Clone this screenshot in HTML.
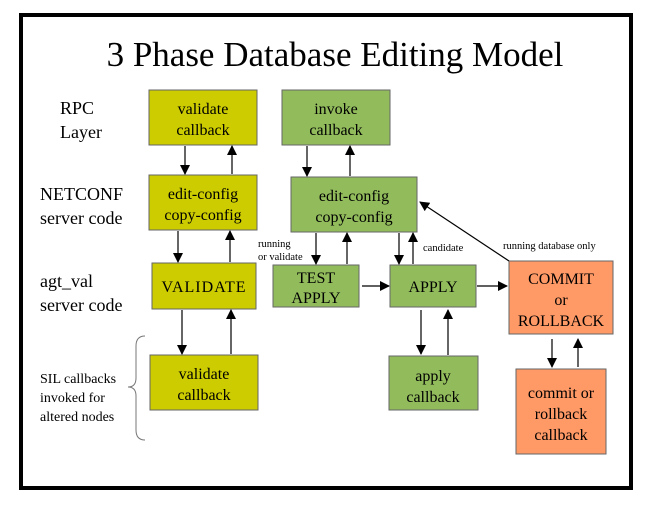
<!DOCTYPE html>
<html><head><style>
body{margin:0;background:#fff;width:648px;height:504px;overflow:hidden}
svg text{font-family:"Liberation Serif",serif;fill:#000}
</style></head><body>
<svg width="648" height="504" viewBox="0 0 648 504" xmlns="http://www.w3.org/2000/svg">
<defs><marker id="a" markerWidth="10" markerHeight="10" refX="9" refY="5" orient="auto" markerUnits="userSpaceOnUse"><path d="M0,0 L10,5 L0,10 z" fill="#000"/></marker></defs>
<rect x="21" y="15" width="610" height="473" fill="none" stroke="#000" stroke-width="4"/>
<text x="335" y="66" font-size="35" text-anchor="middle">3 Phase Database Editing Model</text>
<g font-size="18">
<text x="60" y="114">RPC</text><text x="60" y="138">Layer</text>
<text x="40" y="200">NETCONF</text><text x="40" y="224">server code</text>
<text x="40" y="287">agt_val</text><text x="40" y="311">server code</text>
</g>
<g font-size="14"><text x="40" y="383">SIL callbacks</text><text x="40" y="402">invoked for</text><text x="40" y="421">altered nodes</text></g>
<path d="M145,336 Q136,336 136,346 L136,378 Q136,387 128,387 Q136,387 136,396 L136,430 Q136,440 145,440" fill="none" stroke="#777" stroke-width="1"/>
<g stroke="#666" stroke-width="1">
<rect x="149" y="90" width="108" height="55" fill="#cccc00"/>
<rect x="149" y="175" width="108" height="55" fill="#cccc00"/>
<rect x="152" y="263" width="104" height="46" fill="#cccc00"/>
<rect x="150" y="355" width="108" height="55" fill="#cccc00"/>
<rect x="282" y="90" width="108" height="55" fill="#92bc5c"/>
<rect x="291" y="177" width="126" height="55" fill="#92bc5c"/>
<rect x="273" y="265" width="86" height="42" fill="#92bc5c"/>
<rect x="390" y="265" width="86" height="42" fill="#92bc5c"/>
<rect x="389" y="356" width="89" height="54" fill="#92bc5c"/>
<rect x="509" y="261" width="104" height="73" fill="#ff9966"/>
<rect x="516" y="369" width="90" height="85" fill="#ff9966"/>
</g>
<g font-size="16" text-anchor="middle">
<text x="203" y="114">validate</text><text x="203" y="135">callback</text>
<text x="203" y="199">edit-config</text><text x="203" y="220">copy-config</text>
<text x="204" y="292" letter-spacing="1">VALIDATE</text>
<text x="204" y="379">validate</text><text x="204" y="400">callback</text>
<text x="336" y="114">invoke</text><text x="336" y="135">callback</text>
<text x="354" y="201">edit-config</text><text x="354" y="222">copy-config</text>
<text x="316" y="283">TEST</text><text x="316" y="303">APPLY</text>
<text x="433" y="292">APPLY</text>
<text x="433" y="381">apply</text><text x="433" y="402">callback</text>
<text x="561" y="284">COMMIT</text><text x="561" y="305">or</text><text x="561" y="326">ROLLBACK</text>
<text x="561" y="398">commit or</text><text x="561" y="419">rollback</text><text x="561" y="440">callback</text>
</g>
<g font-size="10.5"><text x="258" y="247">running</text><text x="258" y="260">or validate</text>
<text x="423" y="251">candidate</text><text x="503" y="249">running database only</text></g>
<g stroke="#000" stroke-width="1.2" marker-end="url(#a)">
<line x1="185" y1="146" x2="185" y2="174"/><line x1="232" y1="174" x2="232" y2="146"/>
<line x1="178" y1="231" x2="178" y2="262"/><line x1="230" y1="262" x2="230" y2="231"/>
<line x1="182" y1="310" x2="182" y2="354"/><line x1="231" y1="354" x2="231" y2="310"/>
<line x1="307" y1="146" x2="307" y2="176"/><line x1="350" y1="176" x2="350" y2="146"/>
<line x1="316" y1="233" x2="316" y2="264"/><line x1="347" y1="264" x2="347" y2="233"/>
<line x1="399" y1="233" x2="399" y2="264"/><line x1="413" y1="264" x2="413" y2="233"/>
<line x1="362" y1="286" x2="389" y2="286"/><line x1="477" y1="286" x2="507" y2="286"/>
<line x1="421" y1="310" x2="421" y2="354"/><line x1="448" y1="355" x2="448" y2="310"/>
<line x1="552" y1="339" x2="552" y2="367"/><line x1="578" y1="367" x2="578" y2="339"/>
<line x1="509" y1="261" x2="420" y2="202"/>
</g>
</svg>
</body></html>
